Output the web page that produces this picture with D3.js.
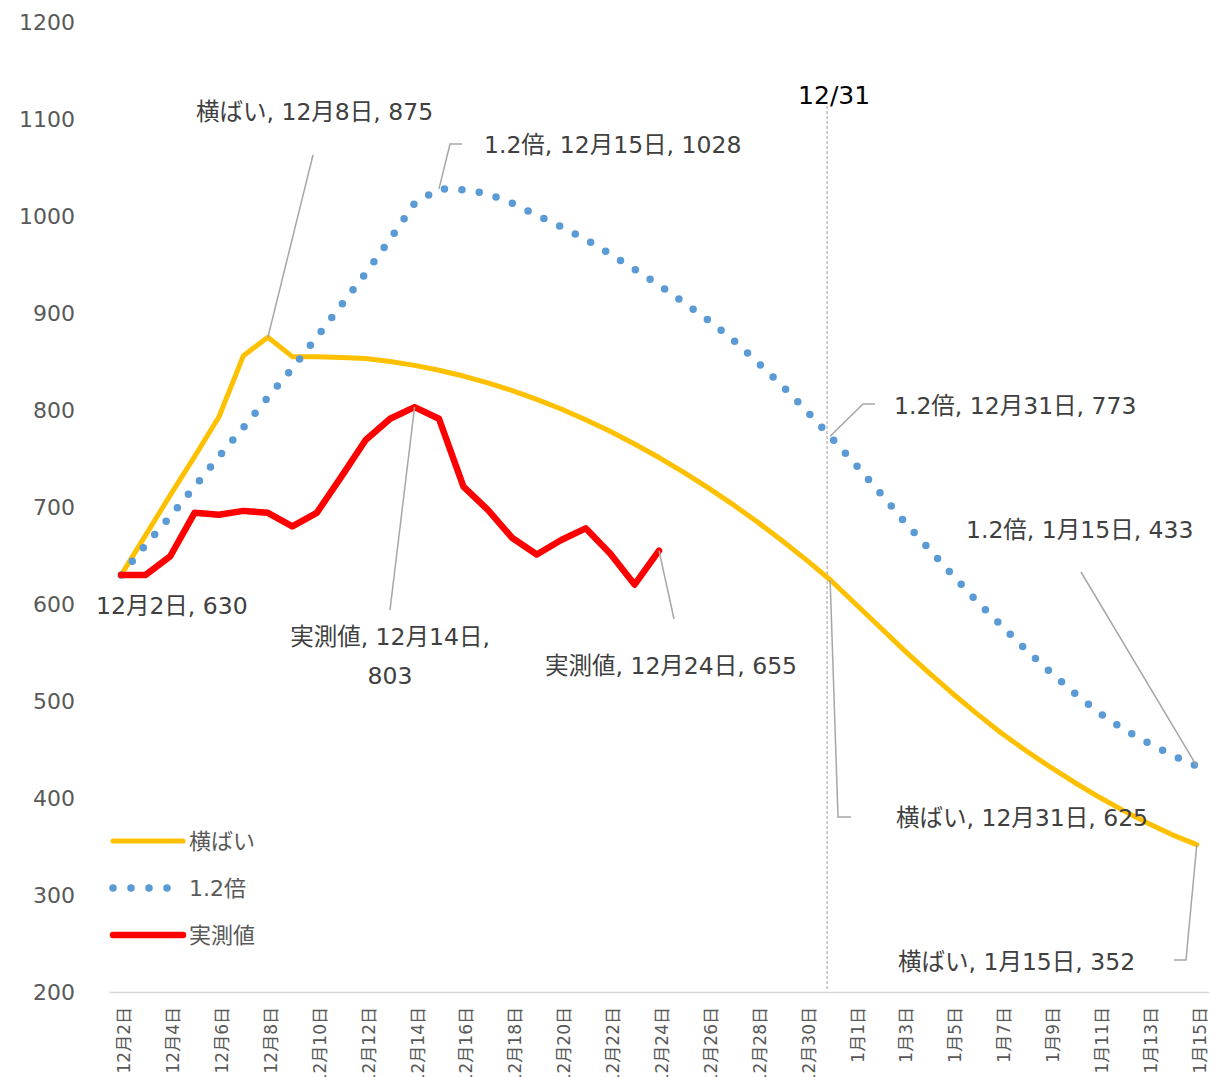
<!DOCTYPE html>
<html>
<head>
<meta charset="utf-8">
<script src="https://cdn.jsdelivr.net/npm/d3@7"></script>
<style>
  body { margin: 0; background: #fff; }
  svg text { font-family: "DejaVu Sans", "Noto Sans CJK JP", sans-serif; }
</style>
</head>
<body>
<svg id="chart" width="1211" height="1077"></svg>
<script>
// categories: 12月2日 .. 1月15日
var dates = [
  '12月2日','12月3日','12月4日','12月5日','12月6日','12月7日','12月8日','12月9日','12月10日',
  '12月11日','12月12日','12月13日','12月14日','12月15日','12月16日','12月17日','12月18日',
  '12月19日','12月20日','12月21日','12月22日','12月23日','12月24日','12月25日','12月26日',
  '12月27日','12月28日','12月29日','12月30日','12月31日',
  '1月1日','1月2日','1月3日','1月4日','1月5日','1月6日','1月7日','1月8日','1月9日',
  '1月10日','1月11日','1月12日','1月13日','1月14日','1月15日'
];

// 横ばい
var flat = [630, 671, 712, 752, 793, 856, 875, 855, 855, 854, 853, 850, 846, 841, 835,
  828, 820, 811, 801, 790, 778, 765, 751, 736, 720, 703, 685, 666, 646, 625,
  601, 577, 553, 530, 508, 487, 467, 449, 432, 416, 401, 387, 374, 362, 352];

// 1.2倍
var times12 = [630, 661, 690, 721, 752, 782, 813, 843, 875, 908, 941, 976, 1013, 1028, 1027,
  1023, 1013, 1001, 989, 976, 961, 945, 929, 911, 893, 873, 850, 826, 800, 773,
  745, 716, 686, 658, 630, 603, 578, 553, 530, 508, 488, 471, 457, 444, 433];

// 実測値 (12月2日 .. 12月24日)
var actual = [630, 630, 649, 694, 692, 696, 694, 680, 694, 731, 769, 791, 803, 791, 721,
  697, 668, 651, 666, 678, 652, 620, 655];

var yTicks = [200, 300, 400, 500, 600, 700, 800, 900, 1000, 1100, 1200];
var markerDate = '12月31日';
var markerLabel = '12/31';

var series = [
  { name: '横ばい', values: flat, color: '#FFC000', width: 5, dash: null },
  { name: '1.2倍', values: times12, color: '#5B9BD5', width: 7.5, dash: '0 17.5' },
  { name: '実測値', values: actual, color: '#FF0000', width: 6.5, dash: null }
];

var svg = d3.select('#chart');

var x = d3.scaleBand().domain(dates).range([109, 1209]);
var cx = function(d) { return x(d) + x.bandwidth() / 2; };
var y = d3.scaleLinear().domain([200, 1200]).range([992, 22]);

// y axis labels
var yAxis = svg.append('g')
  .attr('transform', 'translate(83,0)')
  .call(d3.axisLeft(y).tickValues(yTicks).tickFormat(d3.format('d')).tickSize(0).tickPadding(8));
yAxis.select('.domain').remove();
yAxis.selectAll('text')
  .attr('fill', '#595959')
  .style('font-size', '22px')
  .style('font-family', '"DejaVu Sans", sans-serif');

// x axis
var xAxis = svg.append('g')
  .attr('transform', 'translate(0,992)')
  .call(d3.axisBottom(x)
    .tickValues(dates.filter(function(d, i) { return i % 2 === 0; }))
    .tickSize(0).tickSizeOuter(0));
xAxis.select('.domain').attr('stroke', '#d9d9d9').attr('stroke-width', 1.5);
xAxis.selectAll('text')
  .attr('transform', 'rotate(-90)')
  .attr('text-anchor', 'end')
  .attr('x', -15)
  .attr('y', 3)
  .attr('dy', '0.35em')
  .attr('fill', '#595959')
  .style('font-size', '17px');

// 12/31 marker
var mx = cx(markerDate) - 3;
svg.append('line')
  .attr('x1', mx).attr('x2', mx)
  .attr('y1', 106).attr('y2', 990)
  .attr('stroke', '#bfbfbf')
  .attr('stroke-width', 1.5)
  .attr('stroke-dasharray', '3,2');
svg.append('text')
  .attr('x', mx + 7).attr('y', 104)
  .attr('text-anchor', 'middle')
  .attr('fill', '#000')
  .style('font-size', '25px')
  .text(markerLabel);

// lines
var line = d3.line()
  .x(function(d, i) { return cx(dates[i]); })
  .y(function(d) { return y(d); });

series.forEach(function(s) {
  svg.append('path')
    .datum(s.values)
    .attr('d', line)
    .attr('fill', 'none')
    .attr('stroke', s.color)
    .attr('stroke-width', s.width)
    .attr('stroke-linejoin', 'round')
    .attr('stroke-linecap', 'round')
    .attr('stroke-dasharray', s.dash);
});

// data labels
var notes = [
  { s: 0, d: '12月8日', tx: 196, ty: 112, lead: [[313, 155]] },
  { s: 1, d: '12月15日', tx: 484, ty: 145, lead: [[462, 144], [450, 144]] },
  { s: 1, d: '12月31日', tx: 894, ty: 406, lead: [[875, 404], [863, 404]] },
  { s: 1, d: '1月15日', tx: 966, ty: 530, lead: [[1081, 572]] },
  { s: 0, d: '12月31日', tx: 896, ty: 818, lead: [[851, 817], [838, 817]] },
  { s: 0, d: '1月15日', tx: 898, ty: 962, lead: [[1174, 960], [1186, 960]] },
  { s: 2, d: '12月2日', tx: 96, ty: 606, lead: null, short: true },
  { s: 2, d: '12月14日', tx: 390, ty: 637, lead: [[390, 610]], wrap: true },
  { s: 2, d: '12月24日', tx: 545, ty: 666, lead: [[674, 619]] }
];

var noteG = svg.append('g');
notes.forEach(function(n) {
  var s = series[n.s];
  var i = dates.indexOf(n.d);
  var v = s.values[i];
  var px = cx(n.d), py = y(v);
  if (n.lead) {
    var pts = n.lead.concat([[px, py]]);
    noteG.append('path')
      .attr('d', d3.line()(pts))
      .attr('fill', 'none')
      .attr('stroke', '#a6a6a6')
      .attr('stroke-width', 1.5);
  }
  var t = noteG.append('text')
    .attr('fill', '#404040')
    .style('font-size', '23.5px');
  if (n.wrap) {
    t.attr('text-anchor', 'middle');
    t.append('tspan').attr('x', n.tx).attr('y', n.ty).attr('dy', '0.35em')
      .text(s.name + ', ' + n.d + ',');
    t.append('tspan').attr('x', n.tx).attr('y', n.ty + 39).attr('dy', '0.35em')
      .text(v);
  } else {
    t.attr('x', n.tx).attr('y', n.ty).attr('dy', '0.35em')
      .text(n.short ? n.d + ', ' + v : s.name + ', ' + n.d + ', ' + v);
  }
});

// legend
var legend = svg.append('g');
series.forEach(function(s, i) {
  var ly = 841 + i * 47;
  legend.append('line')
    .attr('x1', 113).attr('x2', s.dash ? 170 : 183)
    .attr('y1', ly).attr('y2', ly)
    .attr('stroke', s.color)
    .attr('stroke-width', s.width)
    .attr('stroke-linecap', 'round')
    .attr('stroke-dasharray', s.dash ? '0 18' : null);
  legend.append('text')
    .attr('x', 189).attr('y', ly).attr('dy', '0.35em')
    .attr('fill', '#595959')
    .style('font-size', '22px')
    .text(s.name);
});
</script>
</body>
</html>
